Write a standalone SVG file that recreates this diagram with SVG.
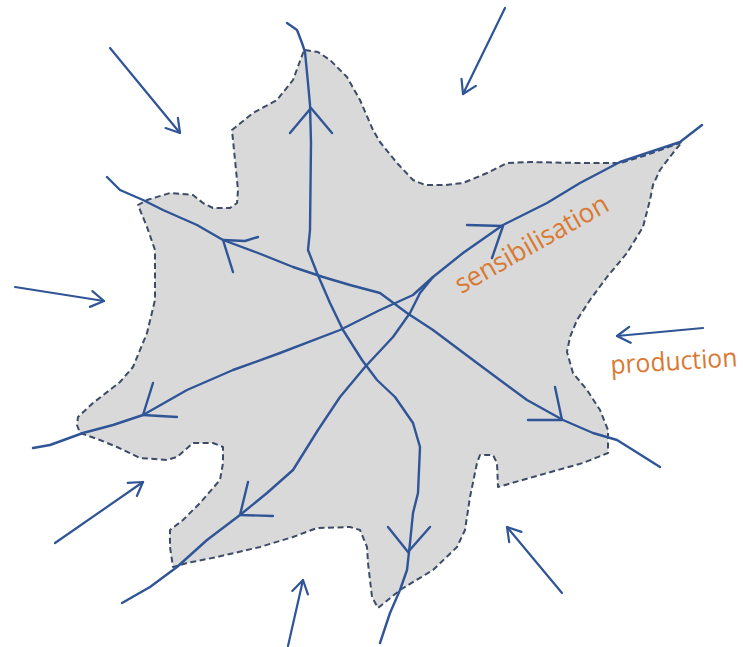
<svg xmlns="http://www.w3.org/2000/svg" width="746" height="647" viewBox="0 0 746 647">
<style>
.leaf{fill:#d9d9d9;stroke:#3d4b68;stroke-width:2;stroke-dasharray:6 3.5;stroke-linejoin:round}
.vein{fill:none;stroke:#2f5597;stroke-width:2.4;stroke-linejoin:round;stroke-linecap:round}
.arr{fill:none;stroke:#2f5597;stroke-width:2.2;stroke-linecap:round;marker-end:url(#chev)}
.lbl{font-family:"Open Sans","Liberation Sans",sans-serif;fill:#d87a33}
</style>
<defs>
<marker id="chev" markerUnits="userSpaceOnUse" viewBox="-16 -12 20 24" refX="0" refY="0" markerWidth="20" markerHeight="24" orient="auto" overflow="visible">
<path d="M-13,-8 L0,0 L-13,8" fill="none" stroke="#2f5597" stroke-width="2.2" stroke-linecap="round" stroke-linejoin="round"/>
</marker>
</defs>
<g id="leaf">
<path class="leaf" d="M305,50 L318,52 L330,60 L347,77 L360,100 L373,130 L380,142 L397,163 L413,180 L425,185 L445,185 L463,183 L487,173 L507,163 L530,162 L580,163 L620,163 L647,155 L682,142 L673,153 L660,170 L653,185 L650,200 L643,227 L627,253 L607,277 L590,300 L577,320 L570,337 L567,352 L573,373 L587,390 L600,410 L608,430 L608,453 L583,463 L533,477 L498,487 L497,463 L493,455 L480,455 L477,463 L470,497 L465,530 L457,547 L433,570 L400,590 L378,608 L372,597 L368,563 L367,547 L360,530 L350,527 L317,528 L293,537 L260,547 L217,557 L187,563 L173,567 L170,547 L170,530 L183,520 L200,503 L220,480 L223,463 L223,447 L213,443 L193,443 L177,457 L167,460 L140,458 L117,447 L100,440 L80,433 L77,425 L78,417 L93,403 L120,382 L133,367 L147,333 L155,300 L155,250 L147,227 L138,205 L147,200 L170,193 L193,195 L203,203 L213,208 L230,208 L237,203 L238,190 L235,160 L232,130 L253,113 L277,100 L293,80 L303,53 Z"/>
</g>
<g id="veins">
<path class="vein" d="M287,23 L297,30 L302,43 L305,52 L308,83 L310,105 L311,143 L310,230 L308,250 L317,273 L330,303 L343,330 L362,360 L377,380 L395,397 L413,423 L420,447 L418,493 L413,513 L410,543 L407,570 L400,590 L390,613 L380,643"/>
<path class="vein" d="M107,177 L120,190 L143,200 L163,210 L197,225 L223,240 L258,253 L293,267 L323,277 L350,285 L380,293 L407,313 L433,330 L477,363 L527,400 L563,420 L593,433 L617,440 L633,450 L660,467"/>
<path class="vein" d="M33,448 L50,445 L83,433 L113,425 L143,415 L187,390 L233,370 L280,353 L340,330 L380,310 L413,295 L433,277 L463,253 L503,225 L547,203 L580,183 L620,162 L647,153 L680,142 L702,125"/>
<path class="vein" d="M122,603 L150,587 L177,567 L207,540 L240,515 L267,493 L293,470 L318,430 L340,397 L365,367 L393,337 L410,313 L420,293 L433,277"/>
<path class="vein" d="M290,133 L311,108 L332,133"/>
<path class="vein" d="M388,527 L408,552 L430,527"/>
<path class="vein" d="M258,237 L245,241 L223,240 L233,272"/>
<path class="vein" d="M555,387 L562,420 L528,420"/>
<path class="vein" d="M153,383 L143,415 L177,417"/>
<path class="vein" d="M467,225 L503,226 L492,258"/>
<path class="vein" d="M248,482 L240,515 L273,516"/>
</g>
<g id="arrows">
<path class="arr" d="M110,48 L180,133"/>
<path class="arr" d="M505,8 L463,94"/>
<path class="arr" d="M15,287 L104,301"/>
<path class="arr" d="M703,328 L617,336"/>
<path class="arr" d="M55,543 L143,482"/>
<path class="arr" d="M288,646 L303,580"/>
<path class="arr" d="M562,593 L507,527"/>
</g>
<g id="labels">
<text class="lbl" x="536" y="252" font-size="27" text-anchor="middle" textLength="172" lengthAdjust="spacingAndGlyphs" transform="rotate(-29.5 536 252)">sensibilisation</text>
<text class="lbl" x="611" y="374" font-size="26" textLength="127" lengthAdjust="spacingAndGlyphs" transform="rotate(-3.5 611 374)">production</text>
</g>
</svg>
